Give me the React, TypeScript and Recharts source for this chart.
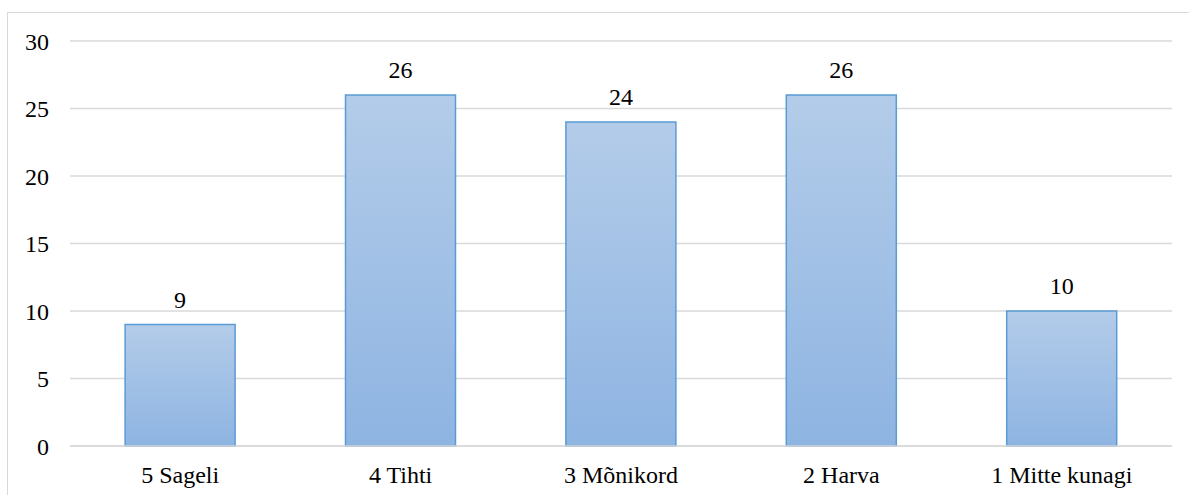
import React from "react";
import { BarChart, Bar, XAxis, YAxis, CartesianGrid, LabelList } from "recharts";

const categories = ["5 Sageli", "4 Tihti", "3 Mõnikord", "2 Harva", "1 Mitte kunagi"];
const values = [9, 26, 24, 26, 10];
const yTicks = [0, 5, 10, 15, 20, 25, 30];

const data = categories.map((c, i) => ({ name: c, value: values[i] }));

const font = '"Liberation Serif", "Times New Roman", Times, serif';

export default function App() {
  return (
    <div style={{ position: "fixed", left: 0, top: 0, width: 1189, height: 495, background: "#fff", overflow: "hidden", fontFamily: font }}>
      <style>{`.recharts-wrapper, .recharts-wrapper text, .recharts-surface text { font-family: ${font} !important; }`}</style>
      <div
        style={{
          position: "absolute",
          left: 7,
          top: 12,
          width: 1200,
          height: 500,
          border: "1px solid #d9d9d9",
          boxSizing: "border-box",
        }}
      />
      <div style={{ position: "absolute", left: 0, top: 0 }}>
        <BarChart
          width={1189}
          height={495}
          data={data}
          margin={{ top: 41, right: 17, bottom: 0, left: 10 }}
          barCategoryGap="25%"
          style={{ fontFamily: font }}
        >
          <defs>
            <linearGradient id="barGrad" x1="0" y1="0" x2="0" y2="1">
              <stop offset="0%" stopColor="#b3cce9" />
              <stop offset="100%" stopColor="#8eb4e2" />
            </linearGradient>
          </defs>
          <CartesianGrid vertical={false} stroke="#d9d9d9" strokeWidth={1.5} />
          <XAxis
            dataKey="name"
            height={49}
            tickLine={false}
            tickSize={0}
            tickMargin={20}
            axisLine={{ stroke: "#d9d9d9", strokeWidth: 1.5 }}
            tick={{ fill: "#000", fontSize: 24 }}
            interval={0}
          />
          <YAxis
            width={60}
            domain={[0, 30]}
            ticks={yTicks}
            axisLine={false}
            tickLine={false}
            tickSize={0}
            tickMargin={21}
            tick={{ fill: "#000", fontSize: 24 }}
          />
          <Bar
            dataKey="value"
            fill="url(#barGrad)"
            stroke="#5b9bd5"
            strokeWidth={1.5}
            isAnimationActive={false}
          >
            <LabelList
              dataKey="value"
              position="top"
              offset={17}
              fill="#000"
              fontSize={24}
            />
          </Bar>
        </BarChart>
      </div>
    </div>
  );
}
